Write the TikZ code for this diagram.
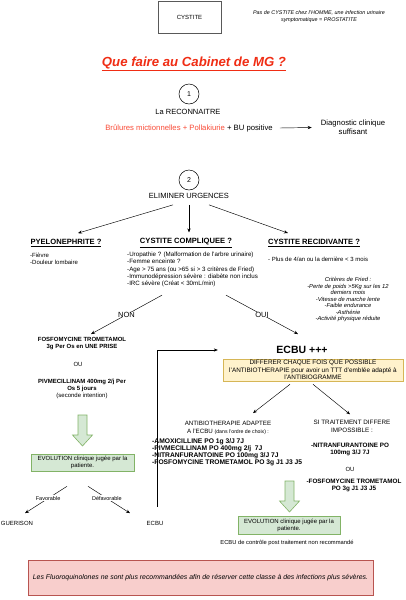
\documentclass[tikz,border=0pt]{standalone}
\usepackage{fontspec}
\setmainfont{Liberation Sans}
\usetikzlibrary{arrows.meta}
\definecolor{tred}{RGB}{240,45,20}
\definecolor{sred}{RGB}{250,75,55}
\definecolor{gfill}{HTML}{D5E8D4}
\definecolor{gdraw}{HTML}{82B366}
\definecolor{yfill}{HTML}{FFF2CC}
\definecolor{ydraw}{HTML}{D6B656}
\definecolor{rfill}{HTML}{F8CECC}
\definecolor{rdraw}{HTML}{B85450}
\begin{document}
\begin{tikzpicture}[x=1pt,y=-1pt,
  txt/.style={inner sep=0pt, align=center, font=\fontsize{6}{7.2}\selectfont},
  small/.style={inner sep=0pt, align=center, font=\fontsize{5.4}{6.5}\selectfont\itshape},
  mid/.style={inner sep=0pt, align=center, font=\fontsize{7.5}{9}\selectfont},
  head/.style={inner sep=0pt, font=\fontsize{7.6}{9}\selectfont\bfseries},
  bld/.style={inner sep=0pt, align=center, font=\fontsize{6.3}{7}\selectfont\bfseries},
  arr/.style={-{Stealth[length=4pt,width=3.2pt]}, line width=0.45pt},
  lbl/.style={fill=white, inner sep=1pt},
  num/.style={draw, circle, minimum size=20pt, inner sep=0pt, line width=0.5pt, font=\fontsize{7}{8}\selectfont},
  gbox/.style={draw=gdraw, fill=gfill, line width=0.6pt},
  garrow/.style={draw=gdraw, fill=gfill, line width=0.6pt, line join=miter}
]
\useasboundingbox (0,0) rectangle (405,600);
\fill[white] (0,0) rectangle (405,600);

\node[draw=black!65, line width=0.6pt, minimum width=63pt, minimum height=32pt, txt] (cyst) at (189.5,17) {CYSTITE};
\node[small] (note) at (319,16.5) {Pas de CYSTITE chez l'HOMME, une infection urinaire\\symptomatique = PROSTATITE};
\node[inner sep=0pt, text=tred, font=\fontsize{13.2}{15}\selectfont\bfseries\itshape] (title) at (194,64) {\underline{Que faire au Cabinet de MG ?}};

\node[num] (c1) at (189,94) {1};
\node[mid] (reco) at (188,112) {La RECONNAITRE};
\node[inner sep=0pt, font=\fontsize{7.7}{9}\selectfont] (sympt) at (189,128) {\textcolor{sred}{Brûlures mictionnelles + Pollakiurie} + BU positive};
\node[inner sep=0pt, align=center, font=\fontsize{7.7}{9}\selectfont] (diag) at (353,127.5) {Diagnostic clinique\\suffisant};
\draw[arr] ([xshift=7pt]sympt.east) -- ([xshift=-9pt]diag.west);

\node[num] (c2) at (189,180) {2};
\node[mid] (elim) at (189,196) {ELIMINER URGENCES};
\node[head] (pyelo) at (66,243) {\underline{PYELONEPHRITE ?}};
\node[head] (comp) at (186,243) {\underline{CYSTITE COMPLIQUEE ?}};
\node[head] (recid) at (314,243) {\underline{CYSTITE RECIDIVANTE ?}};
\draw[arr] ([xshift=-16pt,yshift=-6pt]elim.south) -- ([xshift=12pt,yshift=6pt]pyelo.north);
\draw[arr] ([yshift=-6pt]elim.south) -- ([xshift=3pt,yshift=6pt]comp.north);
\draw[arr] ([xshift=20pt,yshift=-6pt]elim.south) -- ([xshift=-26pt,yshift=6pt]recid.north);

\node[txt, align=left, anchor=north west, font=\fontsize{6}{7}\selectfont] (pyl) at (30,252.5) {-Fièvre\\-Douleur lombaire};
\node[txt, align=left, anchor=north west, font=\fontsize{6.2}{7.25}\selectfont] (cpl) at (127,252) {-Uropathie ? (Malformation de l'arbre urinaire)\\-Femme enceinte ?\\-Age > 75 ans (ou >65 si > 3 critères de Fried)\\-Immunodépression sévère : diabète non inclus\\-IRC sévère (Créat < 30mL/min)};
\node[txt, anchor=west] (rcl) at (268,259) {- Plus de 4/an ou la dernière < 3 mois};
\node[inner sep=0pt, align=center, font=\fontsize{5.8}{6.5}\selectfont\itshape] (fried) at (348,299.5) {Critères de Fried :\\-Perte de poids >5Kg sur les 12\\derniers mois\\-Vitesse de marche lente\\-Faible endurance\\-Asthénie\\-Activité physique réduite};

\node[bld, font=\fontsize{6}{7}\selectfont\bfseries] (fosfo) at (82,343.5) {FOSFOMYCINE TROMETAMOL\\3g Per Os en UNE PRISE};
\node[txt] (ou1) at (78,364) {OU};
\node[txt, font=\fontsize{6}{7}\selectfont] (pivm) at (82,389) {\textbf{PIVMECILLINAM 400mg 2/j Per}\\\textbf{Os 5 jours}\\(seconde intention)};
\node[inner sep=0pt, minimum width=168pt, font=\fontsize{10.5}{12}\selectfont\bfseries] (ecbup) at (302,350) {ECBU +++};

\draw[arr] ([xshift=35pt,yshift=-8pt]cpl.south west) -- node[lbl, mid]{NON} ([xshift=9pt,yshift=3pt]fosfo.north);
\draw[arr] ([xshift=99pt,yshift=-8pt]cpl.south west) -- node[lbl, mid]{OUI} ([xshift=-4pt,yshift=12pt]ecbup.north);

\draw[garrow] (78,415) -- (87,415) -- (87,435) -- (92.5,435) -- (82.5,446) -- (72.5,435) -- (78,435) -- cycle;
\node[gbox, minimum width=103pt, minimum height=17pt, txt] (evo1) at (82.5,462.5) {EVOLUTION clinique jugée par la\\patiente.};
\node[txt] (guer) at (17,523) {GUERISON};
\node[txt] (ecbu) at (155,523) {ECBU};
\draw[arr] ([xshift=-15.5pt,yshift=-15pt]evo1.south) -- node[lbl, pos=0.45, font=\fontsize{5.5}{6}\selectfont]{Favorable} ([xshift=8pt,yshift=7.5pt]guer.north);
\draw[arr] ([xshift=5.5pt,yshift=-15pt]evo1.south) -- node[lbl, pos=0.45, font=\fontsize{5.5}{6}\selectfont]{Défavorable} ([xshift=-25pt,yshift=7.5pt]ecbu.north);
\draw[arr] ([xshift=2pt,yshift=14pt]ecbu.north) |- (ecbup.west);

\node[draw=ydraw, fill=yfill, line width=0.6pt, minimum width=180pt, minimum height=22pt, inner sep=0pt, align=center, font=\fontsize{6.4}{7.4}\selectfont] (yel) at (313,370) {DIFFERER CHAQUE FOIS QUE POSSIBLE\\l'ANTIBIOTHERAPIE pour avoir un TTT d'emblée adapté à\\l'ANTIBIOGRAMME};

\node[txt, font=\fontsize{6.2}{8}\selectfont] (abt) at (228,428) {ANTIBIOTHERAPIE ADAPTEE\\A l'ECBU {\fontsize{5.2}{6}\selectfont (dans l'ordre de choix) :}};
\node[bld, align=left, anchor=north west, font=\fontsize{6.7}{7}\selectfont\bfseries] (l2) at (152,438.5) {-AMOXICILLINE PO 1g 3/J 7J\\-PIVMECILLINAM PO 400mg 2/j\ \ 7J\\-NITRANFURANTOINE PO 100mg 3/J 7J\\-FOSFOMYCINE TROMETAMOL PO 3g J1 J3 J5};
\node[txt, font=\fontsize{6.3}{7.5}\selectfont] (si) at (352,426.5) {SI TRAITEMENT DIFFERE\\IMPOSSIBLE :};
\node[bld] (nitro) at (350,449.5) {-NITRANFURANTOINE PO\\100mg 3/J 7J};
\node[txt] (ou2) at (350,469) {OU};
\node[bld] (fosfo2) at (354,485.5) {-FOSFOMYCINE TROMETAMOL\\PO 3g J1 J3 J5};
\draw[arr] ([xshift=-23pt,yshift=-3pt]yel.south) -- ([xshift=25pt,yshift=8pt]abt.north);
\draw[arr] ([yshift=-3pt]yel.south) -- ([xshift=-2pt,yshift=6pt]si.north);

\draw[garrow] (285,481) -- (294,481) -- (294,501) -- (299.5,501) -- (289.5,512) -- (279.5,501) -- (285,501) -- cycle;
\node[gbox, minimum width=102pt, minimum height=18pt, txt] (evo2) at (289,525.5) {EVOLUTION clinique jugée par la\\patiente.};
\node[txt, font=\fontsize{5.8}{7}\selectfont] (ctrl) at (287,543) {ECBU de contrôle post traitement non recommandé};

\node[draw=rdraw, fill=rfill, line width=0.6pt, minimum width=345pt, minimum height=35pt, inner sep=0pt, font=\fontsize{6.9}{8}\selectfont\itshape] (warn) at (200.5,577.5) {Les Fluoroquinolones ne sont plus recommandées afin de réserver cette classe à des infections plus sévères.};
\end{tikzpicture}
\end{document}
